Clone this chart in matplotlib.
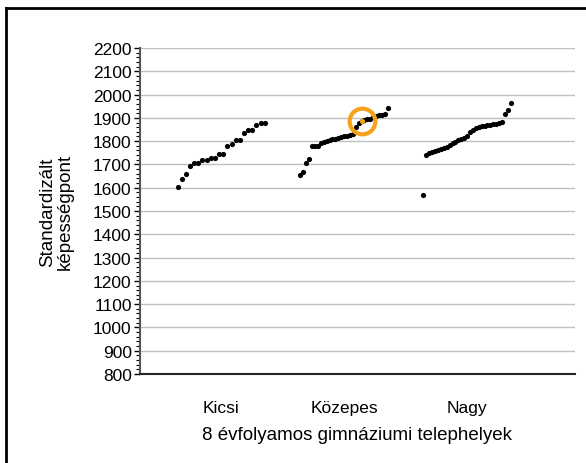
import numpy as np
import matplotlib
matplotlib.use("Agg")
import matplotlib.pyplot as plt
from matplotlib.lines import Line2D
from matplotlib.ticker import MultipleLocator

plt.rcParams['font.family'] = ['Liberation Sans', 'DejaVu Sans']

categories = ["Kicsi", "Közepes", "Nagy"]

kicsi = [1604, 1638, 1658, 1695, 1706, 1708, 1717, 1717, 1728, 1728, 1746,
         1746, 1781, 1787, 1805, 1806, 1836, 1849, 1849, 1871, 1877, 1880]

kozepes = [1653, 1668, 1704, 1723, 1777, 1778, 1779, 1793, 1798, 1802, 1805,
           1808, 1811, 1814, 1817, 1820, 1823, 1827, 1832, 1862, 1880, 1888,
           1890, 1893, 1897, 1903, 1907, 1911, 1913, 1917, 1942]

nagy = [1568, 1741, 1748, 1752, 1756, 1760, 1766, 1772, 1776, 1782, 1790,
        1797, 1803, 1808, 1812, 1822, 1838, 1850, 1858, 1862, 1864, 1866,
        1868, 1870, 1872, 1874, 1878, 1884, 1917, 1932, 1964]

highlight_group = 1
highlight_index = 21

y_ticks = list(range(800, 2201, 100))
xlabel = "8 évfolyamos gimnáziumi telephelyek"
ylabel = "Standardizált\nképességpont"

fig = plt.figure(figsize=(5.86, 4.64), dpi=100)
ax = fig.add_axes([140/586, 1-375/464, 435/586, 326/464])

groups = [kicsi, kozepes, nagy]
spread = 0.355
for g, vals in enumerate(groups):
    xs = g + np.linspace(-spread, spread, len(vals))
    ax.scatter(xs, vals, s=14, color='black', zorder=3, linewidths=0)
    if g == highlight_group:
        hx = xs[highlight_index]
        hy = vals[highlight_index]
        ax.scatter([hx], [hy], s=14, color='#F5A31A', zorder=4, linewidths=0)
        ax.plot([hx], [hy], marker='o', markersize=18.5, markerfacecolor='none',
                markeredgecolor='#F5A31A', markeredgewidth=3, zorder=5)

ax.set_xlim(-0.66, 2.878)
ax.set_ylim(800, 2200)
ax.set_yticks(y_ticks)
ax.yaxis.set_minor_locator(MultipleLocator(20))
ax.set_xticks(range(len(categories)))
ax.set_xticklabels(categories, fontsize=12.5)
ax.tick_params(axis='x', length=0, pad=19)
ax.tick_params(axis='y', which='major', length=4, width=1, labelsize=12.5, pad=2)
ax.tick_params(axis='y', which='minor', length=3, width=0.8)
ax.grid(axis='y', color='#c0c0c0', linewidth=1)
ax.set_axisbelow(True)
for s in ['top', 'right']:
    ax.spines[s].set_visible(False)
ax.spines['left'].set_color('#555555')
ax.spines['left'].set_linewidth(1.5)
ax.spines['bottom'].set_color('#222222')
ax.spines['bottom'].set_linewidth(1.5)

ax.set_xlabel(xlabel, fontsize=13.5, labelpad=8)
ax.set_ylabel(ylabel, fontsize=13.5, labelpad=14, linespacing=1.05)

# outer frame (left and top lines)
fig.add_artist(Line2D([6/586, 6/586], [0, 1-9/464], transform=fig.transFigure,
                      color='black', linewidth=2))
fig.add_artist(Line2D([6/586, 1], [1-9/464, 1-9/464], transform=fig.transFigure,
                      color='black', linewidth=2))

fig.savefig("out.png", dpi=100)
